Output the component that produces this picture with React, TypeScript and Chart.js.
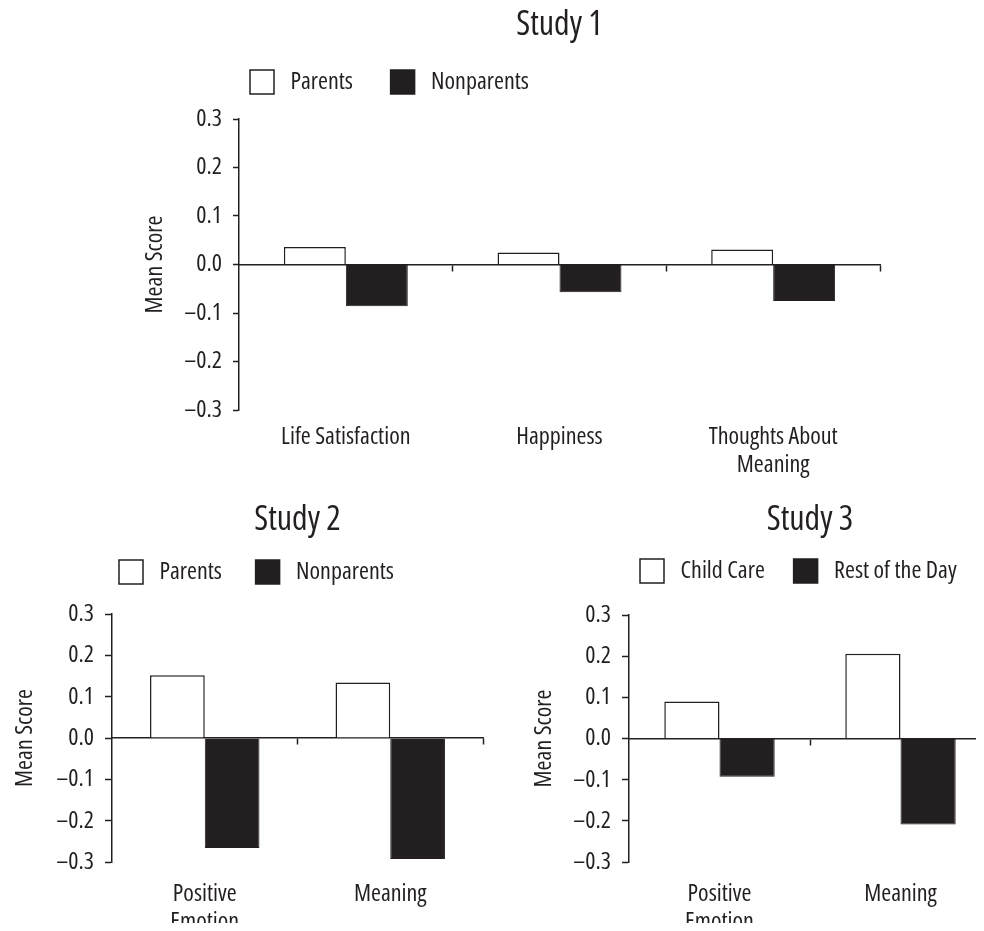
import React, { useEffect, useRef, useState } from 'react';
import { Chart, registerables } from 'chart.js';

Chart.register(...registerables);

const FAMILY = "'Open Sans', 'Roboto', sans-serif";
const INK = '#231f20';
const f = (size: number, lineHeight = 1.18) => ({ family: FAMILY, size, weight: 'condensed 500', lineHeight });

// ---- data ----
const yTickValues = [-0.3, -0.2, -0.1, 0, 0.1, 0.2, 0.3];

const study1Categories: (string | string[])[] = ['Life Satisfaction', 'Happiness', ['Thoughts About', 'Meaning']];
const study1Parents = [0.036, 0.025, 0.031];
const study1Nonparents = [-0.086, -0.057, -0.075];

const study2Categories: (string | string[])[] = [['Positive', 'Emotion'], 'Meaning'];
const study2Parents = [0.152, 0.134];
const study2Nonparents = [-0.266, -0.293];

const study3Categories: (string | string[])[] = [['Positive', 'Emotion'], 'Meaning'];
const study3ChildCare = [0.09, 0.206];
const study3RestOfDay = [-0.093, -0.209];

type Layout = {
  left: number;
  top: number;
  boxW: number;
  boxH: number;
  canvasW: number;
  canvasH: number;
  padRight: number;
  yAxisW: number;
  xAxisH: number;
  titlePadTop: number;
  titlePadBottom: number;
  legendPad: number;
  spacer: number;
  labelPad: number;
  catPct: number;
  yTickLen: number;
  lead: string;
  trail: string;
};

type Props = {
  title: string;
  categories: (string | string[])[];
  nameA: string;
  dataA: number[];
  nameB: string;
  dataB: number[];
  layout: Layout;
};

const fmt = (v: number | string) => {
  const n = Number(v);
  const s = Math.abs(n).toFixed(1);
  return n < -1e-9 ? '\u2013' + s : s;
};

function StudyChart({ title, categories, nameA, dataA, nameB, dataB, layout }: Props) {
  const ref = useRef<HTMLCanvasElement>(null);
  const [err, setErr] = useState('');

  useEffect(() => {
    if (!ref.current) return;
    const L = layout;
    let chart: Chart | null = null;
    try {
      chart = new Chart(ref.current, {
        type: 'bar',
        data: {
          labels: categories as any,
          datasets: [
            {
              label: nameA,
              data: dataA,
              backgroundColor: '#ffffff',
              borderColor: INK,
              borderWidth: 1.5,
              categoryPercentage: L.catPct,
              barPercentage: 1,
            },
            {
              label: nameB,
              data: dataB,
              backgroundColor: INK,
              borderColor: INK,
              borderWidth: 1,
              categoryPercentage: L.catPct,
              barPercentage: 1,
            },
          ],
        },
        options: {
          animation: false,
          responsive: false,
          events: [],
          layout: { padding: { left: 0, right: L.padRight, top: 0, bottom: 0 } },
          plugins: {
            title: {
              display: true,
              text: title,
              fullSize: false,
              color: INK,
              font: f(34, 1.2),
              padding: { top: L.titlePadTop, bottom: L.titlePadBottom },
            },
            subtitle: {
              display: true,
              text: ' ',
              fullSize: false,
              color: 'rgba(0,0,0,0)',
              font: { family: FAMILY, size: 1, lineHeight: 1 },
              padding: { top: L.spacer - 1, bottom: 0 },
            },
            legend: {
              display: true,
              position: 'top',
              align: 'start',
              fullSize: false,
              weight: 1800,
              labels: {
                boxWidth: 24,
                boxHeight: 24,
                padding: L.legendPad,
                color: INK,
                font: f(24),
                generateLabels: (c: any) =>
                  c.data.datasets.map((ds: any, i: number) => ({
                    text: L.lead + ds.label + L.trail,
                    fillStyle: ds.backgroundColor,
                    strokeStyle: ds.borderColor,
                    lineWidth: 1.5,
                    fontColor: INK,
                    hidden: false,
                    datasetIndex: i,
                  })),
              },
            },
            tooltip: { enabled: false },
          },
          scales: {
            x: {
              type: 'category',
              position: { y: 0 },
              offset: true,
              grid: {
                display: true,
                offset: true,
                drawOnChartArea: false,
                drawTicks: true,
                tickLength: 6,
                tickWidth: 1.5,
                tickColor: (ctx: any) => (ctx.index === 0 ? 'rgba(0,0,0,0)' : INK),
              },
              border: { display: true, color: INK, width: 1.5 },
              ticks: { display: false },
            },
            xLabels: {
              type: 'category',
              position: 'bottom',
              offset: true,
              grid: { display: false, drawTicks: false },
              border: { display: false },
              ticks: {
                color: INK,
                font: f(24),
                padding: L.labelPad,
                maxRotation: 0,
                minRotation: 0,
                autoSkip: false,
              },
              afterFit: (s: any) => {
                s.height = L.xAxisH;
              },
            },
            y: {
              type: 'linear',
              position: 'left',
              min: -0.3,
              max: 0.3,
              grid: {
                display: true,
                drawOnChartArea: false,
                drawTicks: true,
                tickLength: L.yTickLen,
                tickWidth: 1.5,
                tickColor: INK,
              },
              border: { display: true, color: INK, width: 1.5 },
              ticks: {
                color: INK,
                font: f(24),
                padding: 11,
                callback: (v: any) => fmt(v),
              },
              afterBuildTicks: (s: any) => {
                s.ticks = yTickValues.map((v) => ({ value: v }));
              },
              afterFit: (s: any) => {
                s.width = L.yAxisW;
              },
              title: {
                display: true,
                text: 'Mean Score',
                color: INK,
                font: f(24, 1.2),
                padding: { top: 4, bottom: 0 },
              },
            },
          },
        } as any,
      });
    } catch (e: any) {
      setErr(String(e && e.stack ? e.stack : e));
    }
    return () => {
      if (chart) chart.destroy();
    };
  }, []);

  const L = layout;
  return (
    <div
      style={{
        position: 'absolute',
        left: L.left,
        top: L.top,
        width: L.boxW,
        height: L.boxH,
        overflow: 'hidden',
      }}
    >
      <canvas ref={ref} width={L.canvasW} height={L.canvasH} style={{ display: 'block' }} />
      {err ? (
        <pre style={{ position: 'absolute', left: 0, top: 0, fontSize: 10, whiteSpace: 'pre-wrap' }}>{err}</pre>
      ) : null}
    </div>
  );
}

// positions are relative to the container, which sits at the body's 8px margin
const layout1: Layout = {
  left: 129, top: -8, boxW: 748, boxH: 490, canvasW: 748, canvasH: 490, padRight: 5,
  yAxisW: 102, xAxisH: 80, titlePadTop: 5, titlePadBottom: 13.2, legendPad: 11, spacer: 15,
  labelPad: 13, catPct: 0.58, yTickLen: 6, lead: ' ', trail: '      ',
};
const layout2: Layout = {
  left: -1, top: 482, boxW: 481, boxH: 441, canvasW: 481, canvasH: 460, padRight: 5,
  yAxisW: 105, xAxisH: 88, titlePadTop: 10, titlePadBottom: 12.2, legendPad: 7, spacer: 20,
  labelPad: 18, catPct: 0.59, yTickLen: 7, lead: ' ', trail: '      ',
};
const layout3: Layout = {
  left: 518, top: 482, boxW: 458, boxH: 441, canvasW: 470, canvasH: 460, padRight: 5,
  yAxisW: 103, xAxisH: 88, titlePadTop: 10, titlePadBottom: 7.2, legendPad: 11, spacer: 22,
  labelPad: 18, catPct: 0.61, yTickLen: 7, lead: ' ', trail: '    ',
};

export default function App() {
  useEffect(() => {
    document.documentElement.style.overflow = 'hidden';
    document.body.style.overflow = 'hidden';
  }, []);
  return (
    <div style={{ position: 'relative', width: 968, height: 915 }}>
      <StudyChart
        title="Study 1"
        categories={study1Categories}
        nameA="Parents"
        dataA={study1Parents}
        nameB="Nonparents"
        dataB={study1Nonparents}
        layout={layout1}
      />
      <StudyChart
        title="Study 2"
        categories={study2Categories}
        nameA="Parents"
        dataA={study2Parents}
        nameB="Nonparents"
        dataB={study2Nonparents}
        layout={layout2}
      />
      <StudyChart
        title="Study 3"
        categories={study3Categories}
        nameA="Child Care"
        dataA={study3ChildCare}
        nameB="Rest of the Day"
        dataB={study3RestOfDay}
        layout={layout3}
      />
    </div>
  );
}
